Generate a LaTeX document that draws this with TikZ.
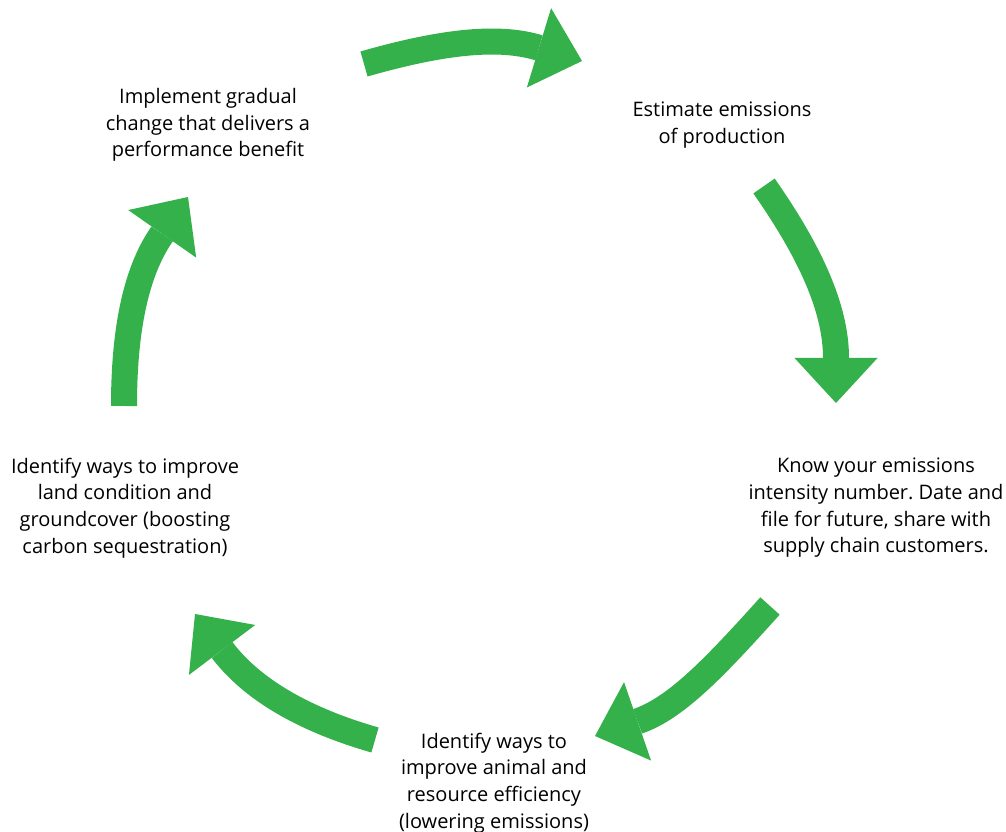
\documentclass[tikz,border=0pt]{standalone}
\usepackage{fontspec}
\setmainfont{Open Sans}
\frenchspacing
\usetikzlibrary{arrows.meta}
\definecolor{cyclegreen}{RGB}{52,177,75}
\tikzset{
  steptext/.style={align=center, font=\fontsize{20}{26.7}\selectfont, text=black, inner sep=0pt},
  cyclearrow/.style={draw=cyclegreen, line width=26pt, line cap=butt,
    -{Triangle[width=83pt,length=45pt,line width=0pt]}}
}
\begin{document}
\begin{tikzpicture}[x=1pt,y=1pt]
        \useasboundingbox (0,0) rectangle (1006,832);
        \node[steptext] (implement) at (208,707) {Implement gradual\\change that delivers a\\performance benefit};
        \node[steptext] (estimate) at (722,707) {Estimate emissions\\of production};
        \node[steptext] (know) at (876,324) {Know your emissions\\intensity number. Date and\\file for future, share with\\supply chain customers.};
        \node[steptext] (animal) at (494,49) {Identify ways to\\improve animal and\\resource efficiency\\(lowering emissions)};
        \node[steptext] (land) at (125,324) {Identify ways to improve\\land condition and\\groundcover (boosting\\carbon sequestration)};
        \coordinate (a1) at (364,768); \coordinate (b1) at (582,771);
        \coordinate (a2) at (764,646); \coordinate (b2) at (836,429);
        \coordinate (a3) at (770,226); \coordinate (b3) at (595,96);
        \coordinate (a4) at (375,92);  \coordinate (b4) at (195,218);
        \coordinate (a5) at (124,426); \coordinate (b5) at (188,635);
        \draw[cyclearrow] (a1) to[out=16,in=163] (b1);
        \draw[cyclearrow] (a2) to[out=-55,in=90] (b2);
        \draw[cyclearrow] (a3) to[out=228,in=19] (b3);
        \draw[cyclearrow] (a4) to[out=164,in=-53] (b4);
        \draw[cyclearrow] (a5) to[out=90,in=-125] (b5);
      \end{tikzpicture}
\end{document}
